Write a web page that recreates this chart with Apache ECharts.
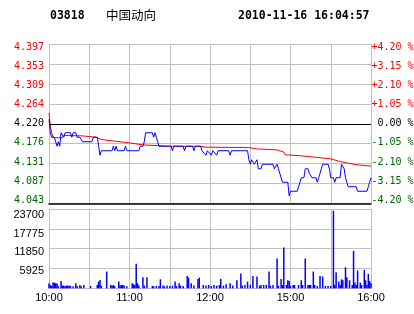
<!DOCTYPE html>
<html><head><meta charset="utf-8">
<script src="https://cdn.jsdelivr.net/npm/echarts@6/dist/echarts.min.js"></script>
<style>html,body{margin:0;padding:0;background:#fff}#c{width:414px;height:314px}</style>
</head><body><div id="c"></div>
<script>
const stockCode = '03818';
const stockName = '中国动向';
const stamp = '2010-11-16 16:04:57';
const prevClose = 4.22;
// trading minutes: 0 = 10:00 ... 150 = 12:30/14:30 ... 240 = 16:00
const timeLabels = ['10:00','','11:00','','12:00','','15:00','','16:00'];

const priceTimes = [0,1,2,4,5,6,7,8,9,10,11,12,16,17,18,20,21,23,24,25,32,33,36,37,38,39,47,48,49,50,51,56,57,58,67,68,70,71,72,77,78,79,80,81,82,91,92,93,100,101,102,107,108,109,113,114,117,118,121,122,125,126,134,135,136,148,149,150,151,153,155,156,158,159,167,168,169,170,171,172,173,174,178,179,180,185,186,187,188,190,191,193,194,196,199,200,201,202,203,204,208,209,210,212,213,214,217,218,219,220,221,222,223,229,230,237,238,239,240];
const priceValues = [4.23,4.20,4.19,4.19,4.18,4.17,4.18,4.17,4.20,4.20,4.19,4.20,4.20,4.19,4.20,4.20,4.19,4.19,4.19,4.18,4.18,4.19,4.19,4.17,4.15,4.16,4.16,4.17,4.16,4.17,4.16,4.16,4.17,4.16,4.16,4.17,4.17,4.18,4.20,4.20,4.19,4.20,4.19,4.18,4.17,4.17,4.16,4.17,4.17,4.16,4.17,4.17,4.16,4.17,4.17,4.16,4.15,4.16,4.15,4.16,4.15,4.16,4.16,4.15,4.16,4.16,4.14,4.13,4.14,4.13,4.14,4.12,4.12,4.13,4.13,4.12,4.12,4.13,4.12,4.11,4.10,4.09,4.09,4.06,4.07,4.07,4.08,4.09,4.10,4.10,4.12,4.12,4.11,4.10,4.10,4.09,4.10,4.11,4.12,4.13,4.13,4.12,4.10,4.10,4.09,4.10,4.10,4.13,4.13,4.12,4.10,4.09,4.08,4.08,4.07,4.07,4.08,4.09,4.10];

const avgTimes = [0,1,2,3,5,10,11,25,26,35,36,39,44,50,51,61,62,70,71,90,112,113,117,149,150,155,170,171,175,176,187,188,197,198,210,211,217,218,222,223,229,230,240];
const avgValues = [4.244,4.215,4.200,4.190,4.189,4.189,4.194,4.193,4.191,4.190,4.187,4.185,4.183,4.181,4.178,4.177,4.174,4.173,4.171,4.170,4.170,4.169,4.168,4.167,4.165,4.164,4.162,4.159,4.157,4.151,4.149,4.147,4.146,4.143,4.142,4.138,4.136,4.134,4.133,4.130,4.129,4.126,4.126];

const volTimes = [0,1,2,3,4,5,6,7,9,10,11,12,13,14,15,16,18,20,21,23,24,26,31,36,37,38,39,43,46,47,48,49,52,53,54,55,56,58,62,63,64,65,66,67,70,71,73,77,78,80,82,83,85,86,88,90,92,94,95,97,98,100,103,104,106,108,111,112,115,117,119,121,123,125,127,128,130,132,135,137,140,143,144,146,148,150,152,155,157,158,160,162,164,165,167,170,171,173,174,175,177,178,179,180,182,183,186,188,189,191,193,194,195,197,198,200,202,204,206,208,210,212,213,214,216,217,218,219,221,222,224,226,227,228,229,230,232,233,235,236,237,238,239,240];
const volValues = [1500,1000,700,1700,1700,1500,1400,600,2200,800,800,600,800,800,700,800,600,1500,700,1000,600,1000,700,1000,2000,2500,800,5000,1000,800,1000,600,2000,800,1000,1000,800,600,1500,1200,1000,7300,1500,800,3300,800,3300,700,600,700,700,2700,800,600,800,700,800,2000,700,1500,800,700,3700,3200,1500,800,2800,3200,1000,800,1000,700,1000,800,1000,2800,800,1200,1500,800,2400,4400,800,1000,2000,1000,3700,3500,800,1000,1000,1000,5000,800,1000,8900,800,2800,1000,12200,1000,2400,2200,700,1000,1000,1000,2400,1000,8900,1000,1000,1000,5000,1000,700,3700,3500,700,700,700,23200,1000,4800,2000,1000,2700,2400,6300,3300,2400,1000,11200,1700,1000,5300,1700,1000,5500,2400,1000,4300,2200,1500];

const volMax = 23700, volStep = 5925;
const pctMax = 4.2, pctStep = 1.05;

const pct = p => (p / prevClose - 1) * 100;
const pricePts = priceTimes.map((m, i) => [m, pct(priceValues[i])]);
const avgPts = avgTimes.map((m, i) => [m, pct(avgValues[i])]);
const volPts = volTimes.map((m, i) => [m, volValues[i]]);

const mono = 'DejaVu Sans Mono';
const sans = 'Liberation Sans';
const GRID = '#c0c0c0';
const RED = '#ff0000', GREEN = '#006600';
const pctColor = v => { v = Number(v); return v > 1e-9 ? RED : (v < -1e-9 ? GREEN : '#000'); };

const chart = echarts.init(document.getElementById('c'), null, {renderer: 'canvas'});
const g = (top, height) => ({left: 49, width: 322, top, height, containLabel: false, outerBoundsMode: 'none'});
const hiddenX = i => ({gridIndex: i, type: 'value', min: 0, max: 240, show: false});

chart.setOption({
  animation: false,
  backgroundColor: '#fff',
  title: [
    {text: stockCode, left: 50, top: 9, padding: 0, textStyle: {fontFamily: mono, fontWeight: 'bold', fontSize: 11.5, color: '#000', lineHeight: 14}},
    {text: stockName, left: 106, top: 8.5, padding: 0, textStyle: {fontFamily: 'Noto Sans CJK SC', fontWeight: 'normal', fontSize: 12.5, color: '#000', lineHeight: 14}},
    {text: stamp, left: 238, top: 9, padding: 0, textStyle: {fontFamily: mono, fontWeight: 'bold', fontSize: 11.5, color: '#000', lineHeight: 14}}
  ],
  grid: [g(44, 159.5), g(209, 79.3), g(47, 153.3), g(214.7, 75.2)],
  xAxis: [
    {gridIndex: 0, type: 'value', min: 0, max: 240, interval: 30,
     axisLabel: {show: false}, axisTick: {show: false},
     axisLine: {show: true, onZero: false, lineStyle: {color: '#000', width: 1.5}},
     splitLine: {show: true, lineStyle: {color: GRID, width: 1}}},
    {gridIndex: 1, type: 'value', min: 0, max: 240, interval: 30,
     axisLabel: {show: true, margin: 4.5, fontFamily: sans, fontSize: 11, color: '#000',
                 formatter: v => timeLabels[Math.round(v / 30)] || ''},
     axisTick: {show: false},
     axisLine: {show: true, onZero: false, lineStyle: {color: GRID, width: 1}},
     splitLine: {show: true, lineStyle: {color: GRID, width: 1}}},
    hiddenX(2), hiddenX(3)
  ],
  yAxis: [
    {gridIndex: 0, type: 'value', min: -pctMax, max: pctMax, interval: pctStep,
     axisLabel: {show: false}, axisTick: {show: false}, axisLine: {show: false},
     splitLine: {show: true, lineStyle: {color: GRID, width: 1}}},
    {gridIndex: 1, type: 'value', min: 0, max: volMax, interval: volStep,
     axisLabel: {show: false}, axisTick: {show: false}, axisLine: {show: false},
     splitLine: {show: true, lineStyle: {color: GRID, width: 1}}},
    {gridIndex: 2, type: 'value', position: 'left', min: -pctMax, max: pctMax, interval: pctStep,
     axisTick: {show: false}, axisLine: {show: false}, splitLine: {show: false},
     axisLabel: {margin: 5, fontFamily: mono, fontSize: 10, color: pctColor,
                 formatter: v => (prevClose * (1 + v / 100)).toFixed(3)}},
    {gridIndex: 2, type: 'value', position: 'right', min: -pctMax, max: pctMax, interval: pctStep,
     axisTick: {show: false}, axisLine: {show: false}, splitLine: {show: false},
     axisLabel: {margin: 0.5, fontFamily: mono, fontSize: 10, color: pctColor,
                 formatter: v => { const a = Math.abs(v); if (a < 1e-9) return ' 0.00 %'; return (v > 0 ? '+' : '-') + a.toFixed(2) + ' %'; }}},
    {gridIndex: 3, type: 'value', position: 'left', min: 0, max: volMax, interval: volStep,
     axisTick: {show: false}, axisLine: {show: false}, splitLine: {show: false},
     axisLabel: {margin: 5, fontFamily: sans, fontSize: 11, color: '#000', showMinLabel: false,
                 formatter: v => v === 0 ? '' : String(v)}}
  ],
  series: [
    {type: 'line', name: 'avg', xAxisIndex: 0, yAxisIndex: 0, data: avgPts, symbol: 'none',
     lineStyle: {color: RED, width: 1}, itemStyle: {color: RED}, z: 3,
     markLine: {silent: true, symbol: 'none', label: {show: false},
                lineStyle: {color: '#000', width: 1, type: 'solid'}, data: [{yAxis: 0}]}},
    {type: 'line', name: 'price', xAxisIndex: 0, yAxisIndex: 0, data: pricePts, symbol: 'none',
     lineStyle: {color: '#0000ff', width: 1}, itemStyle: {color: '#0000ff'}, z: 4},
    {type: 'bar', name: 'vol', xAxisIndex: 1, yAxisIndex: 1, data: volPts, barWidth: 1.5,
     itemStyle: {color: '#0000ff'}}
  ]
});
</script></body></html>
